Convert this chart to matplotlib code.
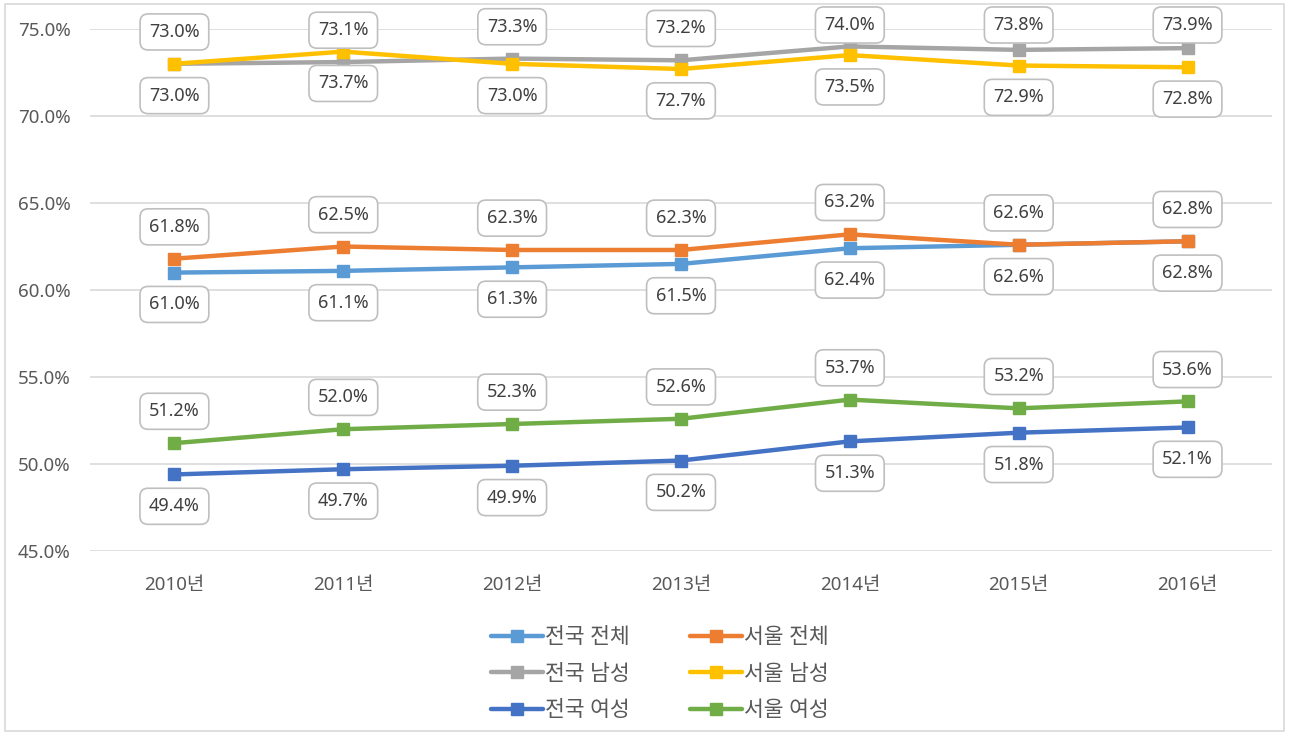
import matplotlib.pyplot as plt
import numpy as np

plt.rcParams['font.family'] = ['Noto Sans', 'Noto Sans CJK KR', 'DejaVu Sans']

years = ["2010년", "2011년", "2012년", "2013년", "2014년", "2015년", "2016년"]

nat_total = [61.0, 61.1, 61.3, 61.5, 62.4, 62.6, 62.8]
seoul_total = [61.8, 62.5, 62.3, 62.3, 63.2, 62.6, 62.8]
nat_male = [73.0, 73.1, 73.3, 73.2, 74.0, 73.8, 73.9]
seoul_male = [73.0, 73.7, 73.0, 72.7, 73.5, 72.9, 72.8]
nat_female = [49.4, 49.7, 49.9, 50.2, 51.3, 51.8, 52.1]
seoul_female = [51.2, 52.0, 52.3, 52.6, 53.7, 53.2, 53.6]

# (values, name, colour, label side: +1 above / -1 below)
series = [
    (nat_total, "전국 전체", "#5B9BD5", -1),
    (seoul_total, "서울 전체", "#ED7D31", 1),
    (nat_male, "전국 남성", "#A5A5A5", 1),
    (seoul_male, "서울 남성", "#FFC000", -1),
    (nat_female, "전국 여성", "#4472C4", -1),
    (seoul_female, "서울 여성", "#70AD47", 1),
]

LABEL_GAP = 1.83   # data units between point and label centre
LABEL_MAX = 75.23  # labels are kept inside the chart area

fig = plt.figure(figsize=(12.89, 7.34), dpi=100)
ax = fig.add_axes([0.0698, 0.2493, 0.9170, 0.7112])

x = np.arange(len(years))
for vals, name, col, side in series:
    ax.plot(x, vals, color=col, lw=3.2, marker="s", ms=8.5, label=name,
            solid_capstyle="round", zorder=3)

# labels drawn after all lines so boxes sit on top
for vals, name, col, side in series:
    for xi, v in zip(x, vals):
        ly = min(v + side * LABEL_GAP, LABEL_MAX)
        ax.annotate("{:.1f}%".format(v), (xi, v), xytext=(xi, ly),
                    textcoords="data", ha="center", va="center",
                    fontsize=13, color="#404040", zorder=5, annotation_clip=False,
                    bbox=dict(boxstyle="round,pad=0.5,rounding_size=0.45",
                              fc="white", ec="#BFBFBF", lw=1.2))

ax.set_xlim(-0.5, len(years) - 0.5)
ax.set_ylim(45, 75)
ax.set_yticks(np.arange(45, 75.1, 5))
ax.set_yticklabels(["{:.1f}%".format(t) for t in np.arange(45, 75.1, 5)])
ax.set_xticks(x)
ax.set_xticklabels(years)
ax.tick_params(length=0, labelsize=13.5, labelcolor="#595959", pad=18)
ax.tick_params(axis="y", pad=14)
ax.grid(axis="y", color="#D9D9D9", lw=1.2)
ax.set_axisbelow(True)
for s in ax.spines.values():
    s.set_visible(False)

# legend filled row by row like the original
h, l = ax.get_legend_handles_labels()
order = [0, 2, 4, 1, 3, 5]
fig.legend([h[i] for i in order], [l[i] for i in order],
           loc="upper center", bbox_to_anchor=(0.512, 0.172), ncol=2,
           frameon=False, fontsize=15.5, labelcolor="#595959",
           handlelength=2.4, handletextpad=0.1, columnspacing=2.8,
           labelspacing=0.72)

# outer chart border
fig.patches.append(plt.Rectangle((0.004, 0.004), 0.992, 0.99,
                                 transform=fig.transFigure, fill=False,
                                 ec="#D9D9D9", lw=1.2))

fig.savefig("out.png", dpi=100)
